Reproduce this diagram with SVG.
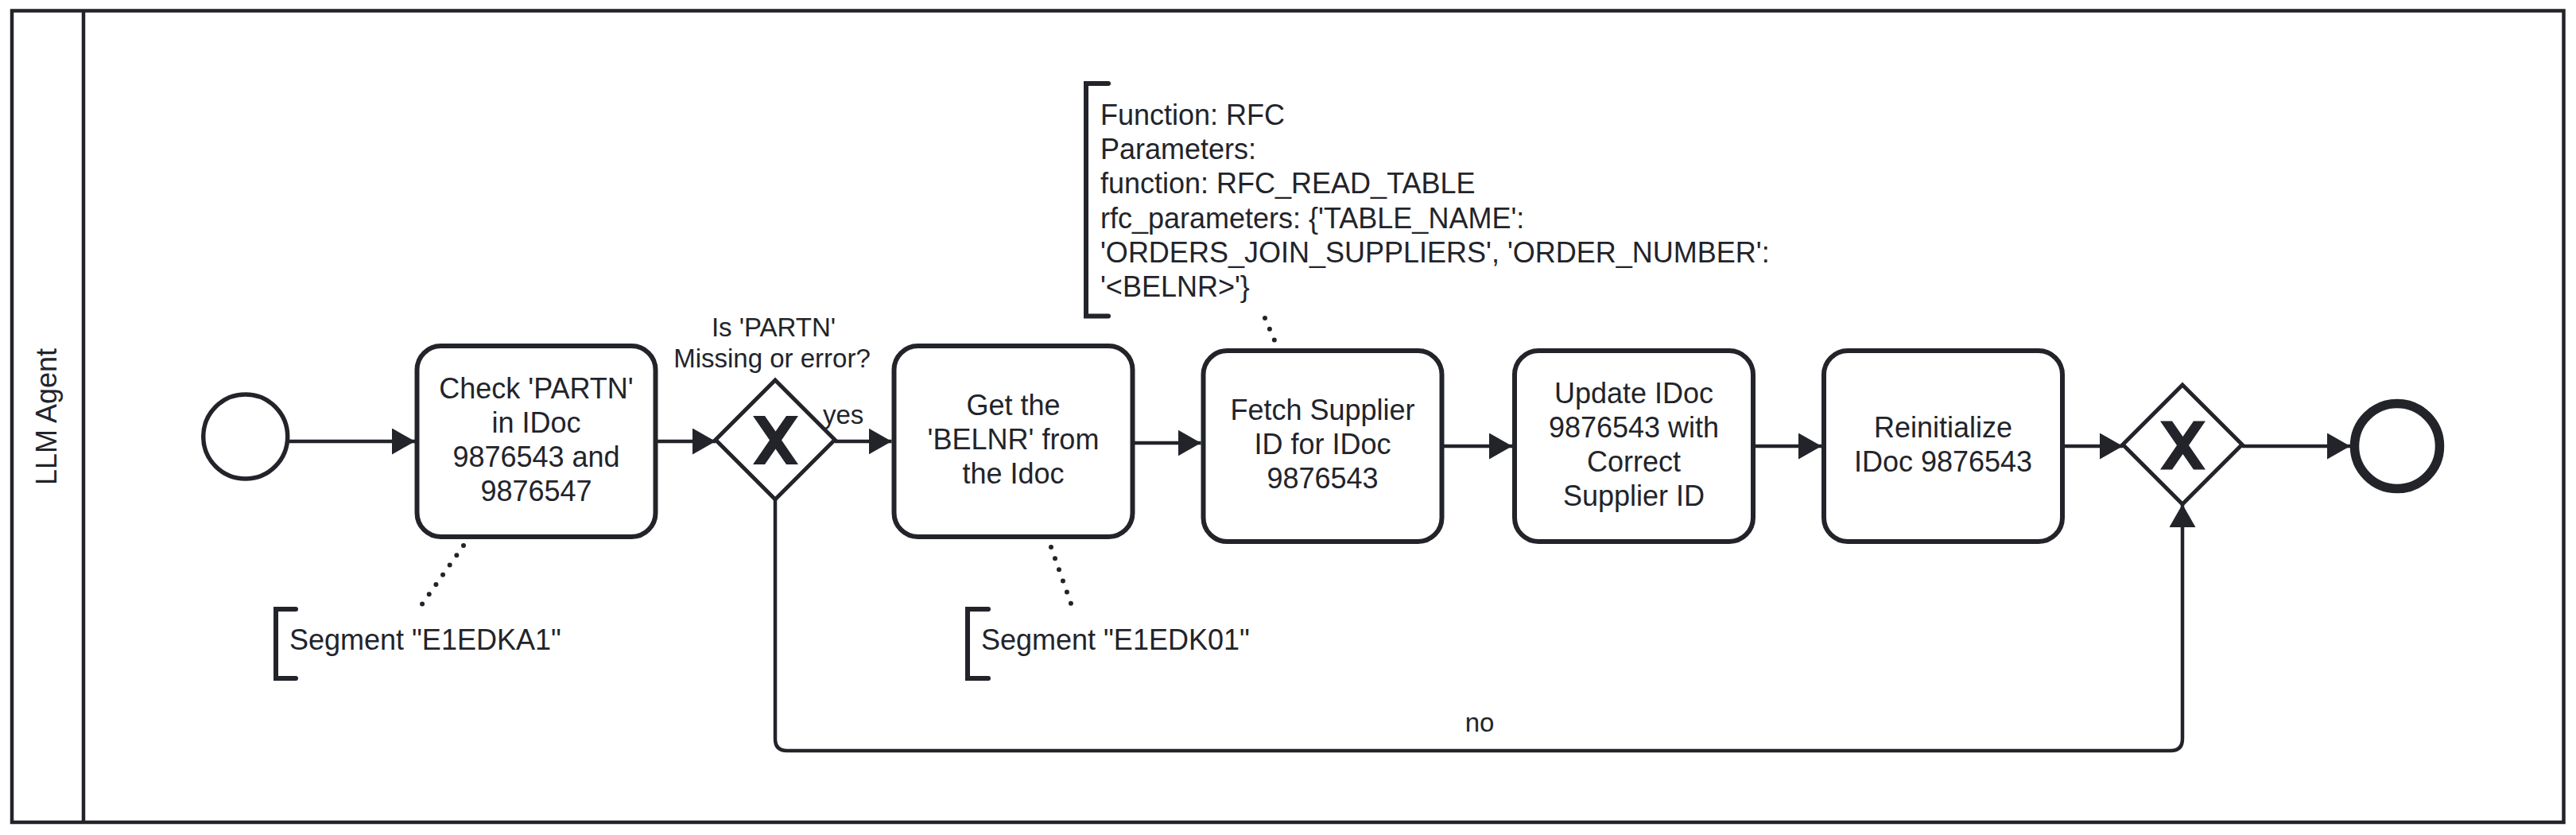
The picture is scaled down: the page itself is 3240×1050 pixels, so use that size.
<svg xmlns="http://www.w3.org/2000/svg" width="3240" height="1050" viewBox="0 0 3240 1050">
<style>
  .ln { stroke: #22242a; fill: none; }
  .task { fill: #ffffff; stroke: #22242a; stroke-width: 6; }
  .gw { fill: #ffffff; stroke: #22242a; stroke-width: 5; stroke-linejoin: miter; }
  .flow { fill: none; stroke: #22242a; stroke-width: 4.5; stroke-linejoin: round; }
  .assoc { fill: none; stroke: #22242a; stroke-width: 6; stroke-dasharray: 0 15; stroke-linecap: round; }
  .brk { fill: none; stroke: #22242a; stroke-width: 6; stroke-linecap: round; stroke-linejoin: miter; }
  .t { font-family: "Liberation Sans", Arial, Helvetica, sans-serif; font-size: 36px; fill: #22242a; }
  .c { text-anchor: middle; }
  .lbl { font-family: "Liberation Sans", Arial, Helvetica, sans-serif; font-size: 33px; fill: #22242a; }
</style>
<defs>
  <marker id="arrow" markerUnits="userSpaceOnUse" markerWidth="30" markerHeight="34" refX="29" refY="16.5" orient="auto" viewBox="0 0 30 34">
    <path d="M0,0 L29,16.5 L0,33 Z" fill="#22242a"/>
  </marker>
  <polygon id="xmark" points="-28.5,-30.5 -13.5,-30.5 0,-10.9 13.5,-30.5 28.5,-30.5 7.5,0 28.5,30.5 13.5,30.5 0,10.9 -13.5,30.5 -28.5,30.5 -7.5,0" fill="#22242a"/>
</defs>
<rect x="0" y="0" width="3240" height="1050" fill="#ffffff"/>

<g id="pool">
  <rect x="15" y="13.5" width="3209.5" height="1020.5" fill="#ffffff" stroke="#22242a" stroke-width="4.5"/>
  <line x1="105" y1="13.5" x2="105" y2="1034" stroke="#22242a" stroke-width="4.5"/>
  <text class="t c" transform="translate(71,524) rotate(-90)" x="0" y="0">LLM Agent</text>
</g>

<g id="connectors">
  <line class="flow" x1="362" y1="555" x2="522" y2="555" marker-end="url(#arrow)"/>
  <line class="flow" x1="827" y1="555" x2="900" y2="555" marker-end="url(#arrow)"/>
  <line class="flow" x1="1050" y1="555" x2="1121.5" y2="555" marker-end="url(#arrow)"/>
  <line class="flow" x1="1427" y1="557" x2="1510.5" y2="557" marker-end="url(#arrow)"/>
  <line class="flow" x1="1816" y1="561" x2="1902" y2="561" marker-end="url(#arrow)"/>
  <line class="flow" x1="2207.5" y1="561" x2="2291" y2="561" marker-end="url(#arrow)"/>
  <line class="flow" x1="2597" y1="561" x2="2670" y2="561" marker-end="url(#arrow)"/>
  <line class="flow" x1="2820" y1="561" x2="2956" y2="561" marker-end="url(#arrow)"/>
  <path class="flow" d="M975,628 V929 Q975,944 990,944 H2730 Q2745,944 2745,929 V634" marker-end="url(#arrow)"/>
  <text class="lbl" x="1035" y="533">yes</text>
  <text class="lbl c" x="1861" y="920">no</text>
  <line class="assoc" x1="583" y1="686" x2="530" y2="761"/>
  <line class="assoc" x1="1322" y1="688" x2="1347" y2="759"/>
  <line class="assoc" x1="1591" y1="400" x2="1603" y2="428"/>
</g>

<g id="start">
  <circle cx="308.7" cy="549" r="53" fill="#ffffff" stroke="#22242a" stroke-width="5.5"/>
</g>

<g id="task-check">
  <rect class="task" x="524.5" y="435" width="300" height="240" rx="30" ry="30"/>
  <text class="t c" x="674.5" y="501">Check 'PARTN'</text>
  <text class="t c" x="674.5" y="544">in IDoc</text>
  <text class="t c" x="674.5" y="587">9876543 and</text>
  <text class="t c" x="674.5" y="630">9876547</text>
</g>

<g id="gateway-split">
  <polygon class="gw" points="975,478 1050,553 975,628 900,553"/>
  <use href="#xmark" transform="translate(975.5,553.5)"/>
  <text class="lbl c" x="973" y="423">Is 'PARTN'</text>
  <text class="lbl c" x="971" y="462">Missing or error?</text>
</g>

<g id="task-belnr">
  <rect class="task" x="1124.5" y="435" width="300" height="240" rx="30" ry="30"/>
  <text class="t c" x="1274.5" y="522">Get the</text>
  <text class="t c" x="1274.5" y="565">'BELNR' from</text>
  <text class="t c" x="1274.5" y="608">the Idoc</text>
</g>

<g id="task-fetch">
  <rect class="task" x="1513.5" y="441" width="300" height="240" rx="30" ry="30"/>
  <text class="t c" x="1663.5" y="528">Fetch Supplier</text>
  <text class="t c" x="1663.5" y="571">ID for IDoc</text>
  <text class="t c" x="1663.5" y="614">9876543</text>
</g>

<g id="task-update">
  <rect class="task" x="1905" y="441" width="300" height="240" rx="30" ry="30"/>
  <text class="t c" x="2055" y="506.5">Update IDoc</text>
  <text class="t c" x="2055" y="549.5">9876543 with</text>
  <text class="t c" x="2055" y="592.5">Correct</text>
  <text class="t c" x="2055" y="635.5">Supplier ID</text>
</g>

<g id="task-reinit">
  <rect class="task" x="2294" y="441" width="300" height="240" rx="30" ry="30"/>
  <text class="t c" x="2444" y="549.5">Reinitialize</text>
  <text class="t c" x="2444" y="592.5">IDoc 9876543</text>
</g>

<g id="gateway-join">
  <polygon class="gw" points="2745,484 2820,559 2745,634 2670,559"/>
  <use href="#xmark" transform="translate(2745.5,560)"/>
</g>

<g id="end">
  <circle cx="3015" cy="561" r="53.5" fill="#ffffff" stroke="#22242a" stroke-width="11.5"/>
</g>

<g id="annotation-e1edka1">
  <path class="brk" d="M372,766 H347 V853 H372"/>
  <text class="t" x="364" y="817">Segment "E1EDKA1"</text>
</g>

<g id="annotation-e1edk01">
  <path class="brk" d="M1243,766 H1217 V853 H1243"/>
  <text class="t" x="1234" y="817">Segment "E1EDK01"</text>
</g>

<g id="annotation-rfc">
  <path class="brk" d="M1394,105 H1366 V397.5 H1394"/>
  <text class="t" x="1384" y="157">Function: RFC</text>
  <text class="t" x="1384" y="200.2">Parameters:</text>
  <text class="t" x="1384" y="243.4">function: RFC_READ_TABLE</text>
  <text class="t" x="1384" y="286.6">rfc_parameters: {'TABLE_NAME':</text>
  <text class="t" x="1384" y="329.8">'ORDERS_JOIN_SUPPLIERS', 'ORDER_NUMBER':</text>
  <text class="t" x="1384" y="373">'&lt;BELNR&gt;'}</text>
</g>
</svg>
